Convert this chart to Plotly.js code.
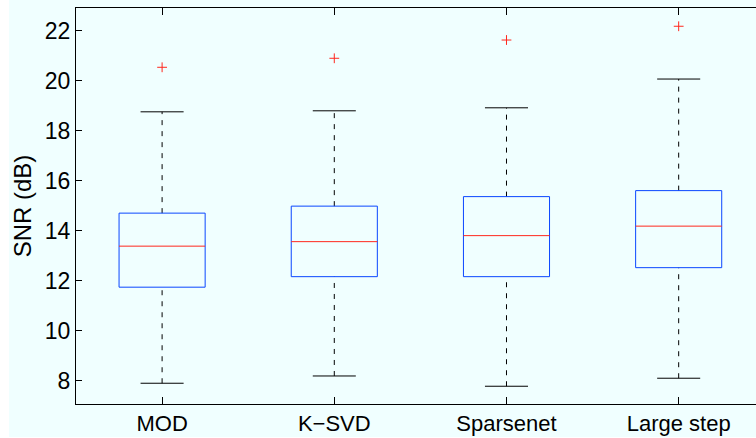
<!DOCTYPE html>
<html>
<head>
<meta charset="utf-8">
<script src="https://cdn.plot.ly/plotly-3.0.1.min.js"></script>
<style>
  html, body { margin: 0; padding: 0; background: #ffffff; width: 756px; height: 438px; overflow: hidden; }
  #chart { position: absolute; left: 9px; top: 0; width: 747px; height: 437px; }
</style>
</head>
<body>
<div id="chart"></div>
<script>
// Data (SNR in dB)
const categories = ['MOD', 'K\u2212SVD', 'Sparsenet', 'Large step'];
const lowerWhisker = [7.91, 8.20, 7.79, 8.11];
const q1 = [11.75, 12.17, 12.17, 12.53];
const median = [13.39, 13.57, 13.81, 14.19];
const q3 = [14.71, 14.99, 15.37, 15.61];
const upperWhisker = [18.76, 18.80, 18.92, 20.07];
const outliers = [20.54, 20.90, 21.63, 22.18];
const yTicks = [8, 10, 12, 14, 16, 18, 20, 22];

const boxHalf = 0.25;
const capHalf = 0.125;
const blue = 'rgb(10,70,255)';
const red = 'rgb(255,40,30)';

const traces = [];
categories.forEach((c, k) => {
  const x = k + 1;
  // whiskers (dashed)
  traces.push({ type: 'scatter', mode: 'lines', x: [x, x], y: [q3[k], upperWhisker[k]],
    line: { color: '#000', width: 1, dash: '5px,6px' }, hoverinfo: 'skip', showlegend: false });
  traces.push({ type: 'scatter', mode: 'lines', x: [x, x], y: [lowerWhisker[k], q1[k]],
    line: { color: '#000', width: 1, dash: '5px,6px' }, hoverinfo: 'skip', showlegend: false });
  // caps
  traces.push({ type: 'scatter', mode: 'lines', x: [x - capHalf, x + capHalf], y: [upperWhisker[k], upperWhisker[k]],
    line: { color: '#000', width: 1 }, hoverinfo: 'skip', showlegend: false });
  traces.push({ type: 'scatter', mode: 'lines', x: [x - capHalf, x + capHalf], y: [lowerWhisker[k], lowerWhisker[k]],
    line: { color: '#000', width: 1 }, hoverinfo: 'skip', showlegend: false });
  // box
  traces.push({ type: 'scatter', mode: 'lines',
    x: [x - boxHalf, x + boxHalf, x + boxHalf, x - boxHalf, x - boxHalf],
    y: [q1[k], q1[k], q3[k], q3[k], q1[k]],
    line: { color: blue, width: 1 }, hoverinfo: 'skip', showlegend: false });
  // median
  traces.push({ type: 'scatter', mode: 'lines', x: [x - boxHalf, x + boxHalf], y: [median[k], median[k]],
    line: { color: red, width: 1 }, hoverinfo: 'skip', showlegend: false });
});
// outliers
traces.push({ type: 'scatter', mode: 'markers', x: categories.map((c, k) => k + 1), y: outliers,
  marker: { symbol: 'cross-thin-open', size: 7, line: { color: red, width: 1 }, color: red },
  hoverinfo: 'skip', showlegend: false });

const family = 'Liberation Sans, Arial, Helvetica, sans-serif';
const xFont = { family: family, size: 22, color: '#000' };
const yFont = { family: family, size: 23, color: '#000' };
const titleFont = { family: family, size: 24, color: '#000' };

const layout = {
  width: 747, height: 437,
  margin: { l: 67, r: 0, t: 8, b: 33 },
  paper_bgcolor: '#f0ffff',
  plot_bgcolor: '#f0ffff',
  font: yFont,
  showlegend: false,
  xaxis: {
    range: [0.5, 4.449],
    tickmode: 'array', tickvals: categories.map((c, k) => k + 1), ticktext: categories,
    ticks: 'inside', ticklen: 7, tickwidth: 1, tickcolor: '#000',
    showline: true, linecolor: '#000', linewidth: 1, mirror: 'ticks',
    showgrid: false, zeroline: false, tickfont: xFont, fixedrange: true
  },
  yaxis: {
    range: [7.08, 22.91],
    tickmode: 'array', tickvals: yTicks, ticktext: yTicks.map(String),
    ticks: 'inside', ticklen: 6, tickwidth: 1, tickcolor: '#000',
    showline: true, linecolor: '#000', linewidth: 1, mirror: false,
    showgrid: false, zeroline: false, tickfont: yFont, fixedrange: true,
    title: { text: 'SNR (dB)', font: titleFont, standoff: 6 }
  }
};

Plotly.newPlot('chart', traces, layout, { staticPlot: true, displayModeBar: false });
</script>
</body>
</html>
